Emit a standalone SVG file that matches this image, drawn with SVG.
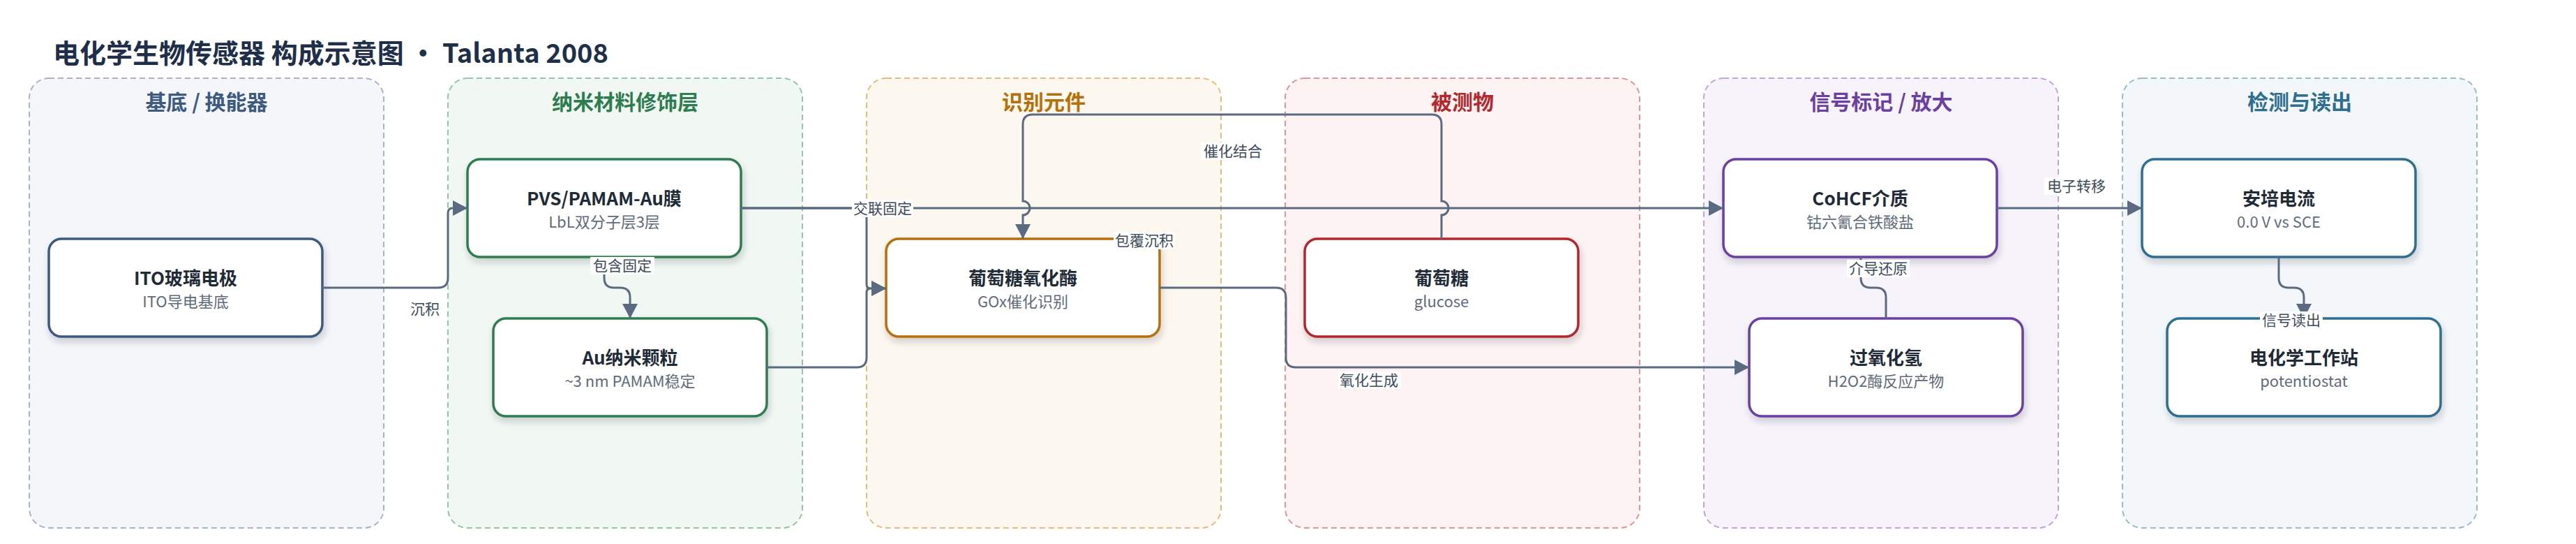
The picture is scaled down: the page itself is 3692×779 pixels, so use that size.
<svg xmlns="http://www.w3.org/2000/svg" width="3692" height="779" viewBox="0 0 3692 779">
<defs>
<filter id="sh" x="-10%" y="-10%" width="120%" height="140%">
<feDropShadow dx="2" dy="6" stdDeviation="5" flood-color="#1f2d3d" flood-opacity="0.2"/>
</filter>
<marker id="ah" viewBox="0 0 21 22" markerWidth="21" markerHeight="22" refX="21" refY="11" orient="auto" markerUnits="userSpaceOnUse">
<path d="M0,0 L21,11 L0,22 z" fill="#5a6a80"/>
</marker>
<style>
text{font-family:"Noto Sans CJK SC","Noto Sans",sans-serif;}
.title{font-size:38px;font-weight:700;fill:#1f2f4a;}
.grp{stroke-width:2;stroke-dasharray:8 5;}
.gl{font-size:30px;font-weight:700;text-anchor:middle;}
.node{fill:#fff;stroke-width:3.5;filter:url(#sh);}
.nt{font-size:26px;font-weight:700;fill:#1f2a37;text-anchor:middle;}
.ns{font-size:22px;fill:#5f6b7a;text-anchor:middle;}
.edge{fill:none;stroke:#5a6a80;stroke-width:3;}
.arr{marker-end:url(#ah);}
.lb{fill:#fff;}
.lt{font-size:21px;fill:#3d4a5c;text-anchor:middle;}
</style>
</defs>
<rect x="0" y="0" width="3692" height="779" fill="#fff"/>
<text class="title" x="76" y="90">电化学生物传感器 构成示意图 · Talanta 2008</text>

<g id="groups">
<g id="g-substrate">
<rect class="grp" x="42" y="112" width="508" height="644" rx="28" fill="#f4f6fa" stroke="#a7b3c8"/>
<text class="gl" x="296" y="157" fill="#3d5a80">基底 / 换能器</text>
</g>
<g id="g-nano">
<rect class="grp" x="642" y="112" width="508" height="644" rx="28" fill="#f1f8f3" stroke="#94c6a2"/>
<text class="gl" x="896" y="157" fill="#2e7d4f">纳米材料修饰层</text>
</g>
<g id="g-recog">
<rect class="grp" x="1242" y="112" width="508" height="644" rx="28" fill="#fdf8ef" stroke="#e3bd80"/>
<text class="gl" x="1496" y="157" fill="#b5700a">识别元件</text>
</g>
<g id="g-analyte">
<rect class="grp" x="1842" y="112" width="508" height="644" rx="28" fill="#fdf3f3" stroke="#e39494"/>
<text class="gl" x="2096" y="157" fill="#b3282d">被测物</text>
</g>
<g id="g-signal">
<rect class="grp" x="2442" y="112" width="508" height="644" rx="28" fill="#f7f3fb" stroke="#c3a2df"/>
<text class="gl" x="2696" y="157" fill="#6b3fa0">信号标记 / 放大</text>
</g>
<g id="g-detect">
<rect class="grp" x="3042" y="112" width="508" height="644" rx="28" fill="#f3f7f9" stroke="#98bccb"/>
<text class="gl" x="3296" y="157" fill="#2e6e8e">检测与读出</text>
</g>
</g>

<g id="node-ito">
<rect class="node" x="70" y="342" width="392" height="140" rx="18" stroke="#3d5a80"/>
<text class="nt" x="266" y="408">ITO玻璃电极</text>
<text class="ns" x="266" y="440">ITO导电基底</text>
</g>
<g id="node-pvs">
<rect class="node" x="670" y="228" width="392" height="140" rx="18" stroke="#2e7d4f"/>
<text class="nt" x="866" y="294">PVS/PAMAM-Au膜</text>
<text class="ns" x="866" y="326">LbL双分子层3层</text>
</g>
<g id="node-au">
<rect class="node" x="707" y="456" width="392" height="140" rx="18" stroke="#2e7d4f"/>
<text class="nt" x="903" y="522">Au纳米颗粒</text>
<text class="ns" x="903" y="554">~3 nm PAMAM稳定</text>
</g>
<g id="node-gox">
<rect class="node" x="1270" y="342" width="392" height="140" rx="18" stroke="#b5700a"/>
<text class="nt" x="1466" y="408">葡萄糖氧化酶</text>
<text class="ns" x="1466" y="440">GOx催化识别</text>
</g>
<g id="node-glucose">
<rect class="node" x="1870" y="342" width="392" height="140" rx="18" stroke="#b3282d"/>
<text class="nt" x="2066" y="408">葡萄糖</text>
<text class="ns" x="2066" y="440">glucose</text>
</g>
<g id="node-cohcf">
<rect class="node" x="2470" y="228" width="392" height="140" rx="18" stroke="#6b3fa0"/>
<text class="nt" x="2666" y="294">CoHCF介质</text>
<text class="ns" x="2666" y="326">钴六氰合铁酸盐</text>
</g>
<g id="node-h2o2">
<rect class="node" x="2507" y="456" width="392" height="140" rx="18" stroke="#6b3fa0"/>
<text class="nt" x="2703" y="522">过氧化氢</text>
<text class="ns" x="2703" y="554">H2O2酶反应产物</text>
</g>
<g id="node-current">
<rect class="node" x="3070" y="228" width="392" height="140" rx="18" stroke="#2e6e8e"/>
<text class="nt" x="3266" y="294">安培电流</text>
<text class="ns" x="3266" y="326">0.0 V vs SCE</text>
</g>
<g id="node-station">
<rect class="node" x="3106" y="456" width="392" height="140" rx="18" stroke="#2e6e8e"/>
<text class="nt" x="3302" y="522">电化学工作站</text>
<text class="ns" x="3302" y="554">potentiostat</text>
</g>

<g id="connectors">
<path class="edge arr" d="M462,412 H628 Q642,412 642,398 V305 Q642,298 649,298 H670"/>
<path class="edge arr" d="M866,368 V398 Q866,412 880,412 H889 Q903,412 903,426 V456"/>
<path class="edge arr" d="M1062,298 H2470"/>
<path class="edge arr" d="M1062,298 H1236 Q1242,298 1242,304 V407 Q1242,413 1248,413 H1270"/>
<path class="edge arr" d="M1099,526 H1228 Q1242,526 1242,512 V419 Q1242,413 1248,413 H1270"/>
<path class="edge arr" d="M2066,342 V308 A10,10 0 0 0 2066,288 V178 Q2066,164 2052,164 H1480 Q1466,164 1466,178 V288 A10,10 0 0 1 1466,308 V342"/>
<path class="edge arr" d="M1662,412 H1829 Q1843,412 1843,426 V512 Q1843,526 1857,526 H2507"/>
<path class="edge arr" d="M2703,456 V426 Q2703,412 2689,412 H2681 Q2667,412 2667,398 V368"/>
<path class="edge arr" d="M2862,298 H3070"/>
<path class="edge arr" d="M3266,368 V398 Q3266,412 3280,412 H3288 Q3302,412 3302,426 V456"/>
<g id="edge-labels">
<text class="lt" x="609" y="450">沉积</text>
<rect class="lb" x="846" y="368" width="92" height="25"/>
<text class="lt" x="892" y="388">包含固定</text>
<rect class="lb" x="1221" y="286" width="88" height="25"/>
<text class="lt" x="1265" y="306">交联固定</text>
<rect class="lb" x="1596" y="332" width="88" height="25"/>
<text class="lt" x="1640" y="352">包覆沉积</text>
<rect class="lb" x="1721" y="204" width="92" height="25"/>
<text class="lt" x="1767" y="224">催化结合</text>
<rect class="lb" x="1917" y="532" width="91" height="25"/>
<text class="lt" x="1962" y="552">氧化生成</text>
<rect class="lb" x="2930" y="254" width="91" height="25"/>
<text class="lt" x="2976" y="274">电子转移</text>
<rect class="lb" x="2647" y="372" width="90" height="25"/>
<text class="lt" x="2692" y="392">介导还原</text>
<rect class="lb" x="3239" y="446" width="90" height="25"/>
<text class="lt" x="3284" y="466">信号读出</text>
</g>
</g>
</svg>
